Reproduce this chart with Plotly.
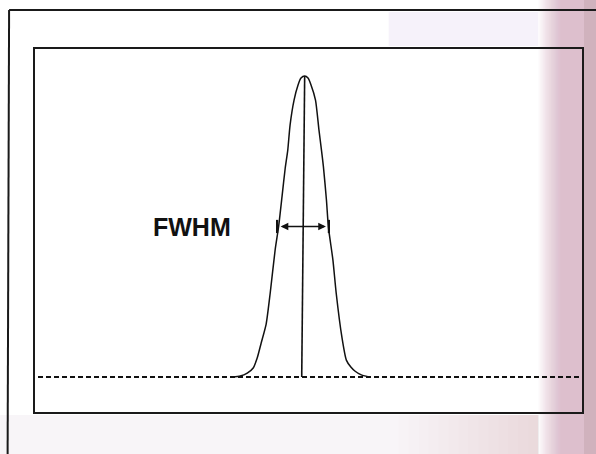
import plotly.graph_objects as go

# ---- data (arbitrary units: position 0-100, normalised intensity) ----
peak_x = [36.07, 37.52, 38.80, 39.89, 40.62, 41.35, 42.26, 43.00, 43.90, 44.54,
          45.17, 45.73, 46.21, 46.63, 47.36, 48.09, 48.63, 49.30,
          49.91, 50.46, 51.28, 51.91, 52.37, 52.73, 53.28, 53.64, 54.46, 55.06,
          56.10, 56.92, 57.74, 58.47, 59.56, 61.02]
peak_y = [0.000, 0.003, 0.013, 0.030, 0.063, 0.113, 0.176, 0.279, 0.422, 0.500,
          0.601, 0.692, 0.754, 0.837, 0.920, 0.970, 0.993, 1.000,
          0.993, 0.970, 0.920, 0.821, 0.754, 0.698, 0.588, 0.498, 0.389, 0.279,
          0.133, 0.056, 0.033, 0.020, 0.008, 0.000]
baseline_x = [0.55, 99.45]
baseline_y = [0.0, 0.0]
center_x = [49.3, 48.76]
center_y = [1.0, 0.0]
half_max = 0.50
fwhm_left = 44.26
fwhm_right = 53.73
fwhm_arrow = [44.63, 53.19]
bar_half = 0.022
label_x = 28.69
label_text = "FWHM"

W, H = 596, 454
L, R, T, B = 35, 584, 49, 412


def px(xp):
    return (xp - L) / (R - L)


def py(yp):
    return (B - yp) / (B - T)


fig = go.Figure()
fig.add_trace(go.Scatter(x=baseline_x, y=baseline_y, mode="lines",
                         line=dict(color="#111", width=2.2, dash="5px,3px"),
                         hoverinfo="skip"))
fig.add_trace(go.Scatter(x=peak_x, y=peak_y, mode="lines",
                         line=dict(color="#111", width=1.5, shape="spline", smoothing=0.6),
                         hoverinfo="skip"))
fig.add_trace(go.Scatter(x=center_x, y=center_y, mode="lines",
                         line=dict(color="#111", width=1.6), hoverinfo="skip"))
for bx in (fwhm_left, fwhm_right):
    fig.add_trace(go.Scatter(x=[bx, bx], y=[half_max - bar_half, half_max + bar_half],
                             mode="lines", line=dict(color="#111", width=2.2),
                             hoverinfo="skip"))

fig.add_annotation(x=fwhm_arrow[1], y=half_max, ax=fwhm_arrow[0], ay=half_max,
                   axref="x", ayref="y", xref="x", yref="y", text="",
                   showarrow=True, arrowside="end+start", arrowhead=2,
                   arrowsize=1.1, arrowwidth=1.4, arrowcolor="#111",
                   standoff=0, startstandoff=0)
fig.add_annotation(x=label_x, y=half_max, xref="x", yref="y", text="<b>%s</b>" % label_text,
                   showarrow=False, font=dict(family="Liberation Sans, Arial", size=25, color="#111"))

shapes = []
# pinkish-grey scan tint at right edge (gradient via many thin stacked rects)
for i in range(20):
    x0 = 540 + i * 1.2
    shapes.append(dict(type="rect", xref="paper", yref="paper", layer="below",
                       x0=px(x0), x1=px(W + 5), y0=py(H + 5), y1=py(-5),
                       fillcolor="rgb(192,155,160)", opacity=0.035, line_width=0))
shapes.append(dict(type="rect", xref="paper", yref="paper", layer="below",
                   x0=px(586), x1=px(W + 5), y0=py(H + 5), y1=py(-5),
                   fillcolor="rgb(180,150,152)", opacity=0.3, line_width=0))
# bottom strip tint
shapes.append(dict(type="rect", xref="paper", yref="paper", layer="below",
                   x0=px(0), x1=px(540), y0=py(H + 5), y1=py(415),
                   fillcolor="rgb(230,218,230)", opacity=0.28, line_width=0))
for i in range(14):
    x0 = 400 + i * 10
    shapes.append(dict(type="rect", xref="paper", yref="paper", layer="below",
                       x0=px(x0), x1=px(540), y0=py(H + 5), y1=py(415),
                       fillcolor="rgb(205,175,198)", opacity=0.028, line_width=0))
# top strip faint lavender
shapes.append(dict(type="rect", xref="paper", yref="paper", layer="below",
                   x0=px(390), x1=px(540), y0=py(46), y1=py(12),
                   fillcolor="rgb(225,212,238)", opacity=0.3, line_width=0))
# outer frame (top and left edges)
shapes.append(dict(type="line", xref="paper", yref="paper", x0=px(9), x1=px(W + 5),
                   y0=py(10), y1=py(10), line=dict(color="#1a1a1a", width=2)))
shapes.append(dict(type="line", xref="paper", yref="paper", x0=px(9), x1=px(7.5),
                   y0=py(10), y1=py(H + 5), line=dict(color="#1a1a1a", width=2)))

fig.update_layout(
    width=W, height=H,
    margin=dict(l=L, r=W - R, t=T, b=H - B, pad=0),
    paper_bgcolor="white", plot_bgcolor="rgba(0,0,0,0)",
    showlegend=False,
    shapes=shapes,
    xaxis=dict(range=[0, 100], showticklabels=False, ticks="", showgrid=False,
               zeroline=False, showline=True, mirror=True, linecolor="#1a1a1a",
               linewidth=2, fixedrange=True),
    yaxis=dict(range=[-0.1163, 1.0897], showticklabels=False, ticks="", showgrid=False,
               zeroline=False, showline=True, mirror=True, linecolor="#1a1a1a",
               linewidth=2, fixedrange=True),
)
fig.write_html("out.html", config={"displayModeBar": False},
               post_script="document.body.style.margin='0';document.body.style.overflow='hidden';")
